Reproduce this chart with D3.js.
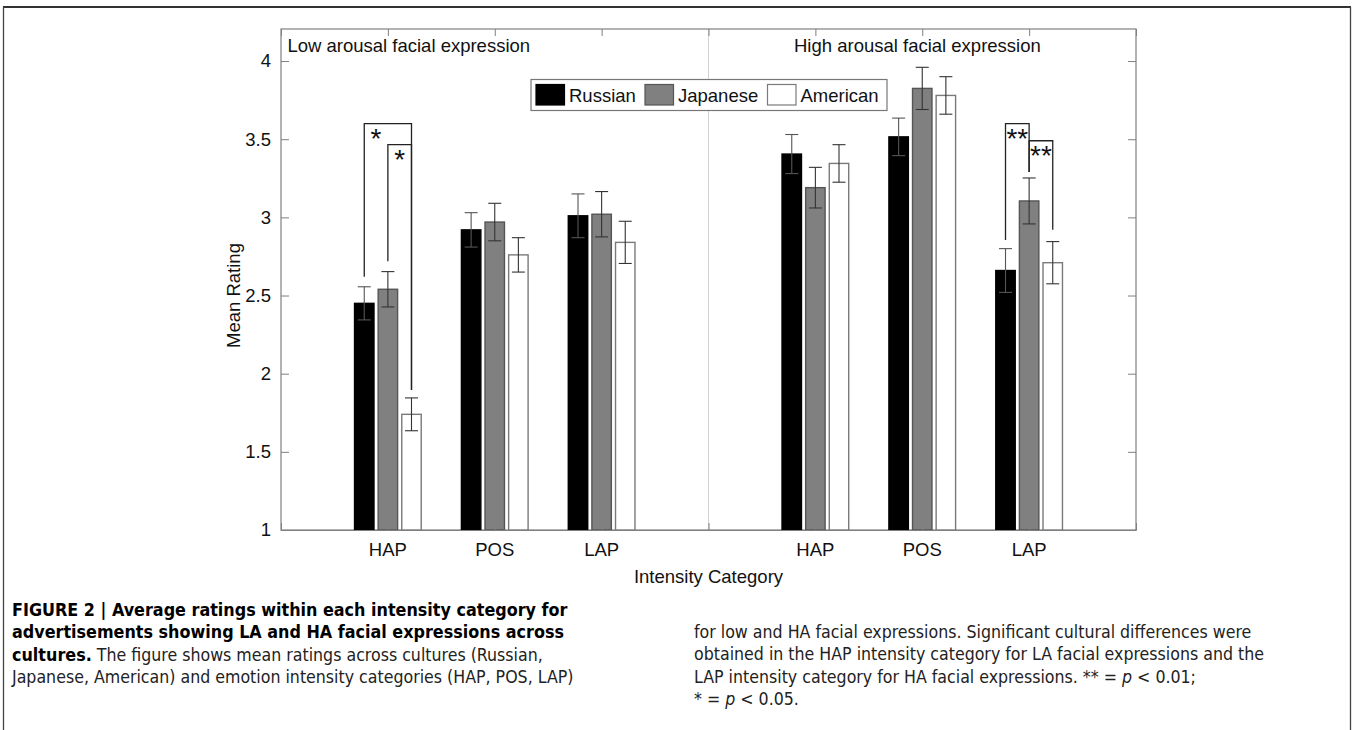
<!DOCTYPE html>
<html>
<head>
<meta charset="utf-8">
<script src="https://cdn.jsdelivr.net/npm/d3@7"></script>
<style>
  html, body { margin: 0; padding: 0; background: #fff; }
  svg { display: block; }
  .cap { font-family: "Liberation Sans Narrow", "DejaVu Sans Condensed", "Liberation Sans", sans-serif; font-size: 17.6px; fill: #222; }
  .cap .b { font-weight: bold; fill: #000; font-size: 17.8px; }
</style>
</head>
<body>
<svg id="chart" width="1354" height="730"></svg>
<script>
// ---------- data ----------
const panelTitles = ["Low arousal facial expression", "High arousal facial expression"];
const categories = ["HAP", "POS", "LAP"];
const seriesNames = ["Russian", "Japanese", "American"];
// values in order: LA HAP, LA POS, LA LAP, HA HAP, HA POS, HA LAP
const russianMeans  = [2.45, 2.92, 3.01, 3.405, 3.515, 2.66];
const japaneseMeans = [2.54, 2.97, 3.02, 3.19, 3.825, 3.105];
const americanMeans = [1.74, 2.76, 2.84, 3.345, 3.78, 2.71];
const russianErr  = [0.106, 0.11, 0.14, 0.125, 0.12, 0.14];
const japaneseErr = [0.113, 0.12, 0.145, 0.13, 0.135, 0.147];
const americanErr = [0.105, 0.11, 0.135, 0.12, 0.12, 0.135];
const yTicks = [1, 1.5, 2, 2.5, 3, 3.5, 4];
const yTickLabels = ["1", "1.5", "2", "2.5", "3", "3.5", "4"];
// significance brackets: group index (0..5), from/to series, top value, leg ends, label
const sigBrackets = [
  { group: 0, from: 0, to: 2, top: 3.60,  fromEnd: 2.62,  toEnd: 1.895, label: "*" },
  { group: 0, from: 1, to: 2, top: 3.465, fromEnd: 2.72,  toEnd: 1.895, label: "*" },
  { group: 5, from: 0, to: 1, top: 3.60,  fromEnd: 2.855, toEnd: 3.29,  label: "**" },
  { group: 5, from: 1, to: 2, top: 3.49,  fromEnd: 3.29,  toEnd: 2.92,  label: "**" }
];
const captionLeft = [
  [{ t: "FIGURE 2 | Average ratings within each intensity category for", b: true }],
  [{ t: "advertisements showing LA and HA facial expressions across", b: true }],
  [{ t: "cultures.", b: true }, { t: " The figure shows mean ratings across cultures (Russian," }],
  [{ t: "Japanese, American) and emotion intensity categories (HAP, POS, LAP)" }]
];
const captionRight = [
  [{ t: "for low and HA facial expressions. Significant cultural differences were" }],
  [{ t: "obtained in the HAP intensity category for LA facial expressions and the" }],
  [{ t: "LAP intensity category for HA facial expressions. ** = " }, { t: "p", i: true }, { t: " < 0.01;" }],
  [{ t: "* = " }, { t: "p", i: true }, { t: " < 0.05." }]
];

(function draw() {
const means = [russianMeans, japaneseMeans, americanMeans];
const errs = [russianErr, japaneseErr, americanErr];
const fills = ["#000000", "#808080", "#ffffff"];
const strokes = ["#000000", "#555555", "#7a7a7a"];

const svg = d3.select("#chart");
const W = 1354, H = 730;
const pL = 281, pR = 1136, pT = 29, pB = 530;

// slot position: panel p, category c -> 1 + 4p + c  (slot 4 is the divider)
const slotOf = g => 1 + Math.floor(g / 3) * 4 + (g % 3);
const x = d3.scaleLinear().domain([0, 8]).range([pL, pR]);
const y = d3.scaleLinear().domain([1, 4.205]).range([pB, pT]);
const barOffset = 0.221, barW = 0.182;

const font = "'Liberation Sans', Arial, sans-serif";

// outer frame
svg.append("line").attr("x1", 3).attr("x2", 1351).attr("y1", 7).attr("y2", 7)
  .attr("stroke", "#333").attr("stroke-width", 2);
svg.append("line").attr("x1", 3.5).attr("x2", 3.5).attr("y1", 7).attr("y2", H)
  .attr("stroke", "#444").attr("stroke-width", 1.3);
svg.append("line").attr("x1", 1350.5).attr("x2", 1350.5).attr("y1", 7).attr("y2", H)
  .attr("stroke", "#444").attr("stroke-width", 1.3);

// divider
svg.append("line").attr("x1", x(4)).attr("x2", x(4)).attr("y1", pT).attr("y2", pB)
  .attr("stroke", "#d0d0d0").attr("stroke-width", 1);

// axes box
const axisColor = "#808080";
svg.append("rect").attr("x", pL).attr("y", pT).attr("width", pR - pL).attr("height", pB - pT)
  .attr("fill", "none").attr("stroke", axisColor).attr("stroke-width", 1.2);

// y axis (left) with inward ticks
const yAxis = d3.axisLeft(y).tickValues(yTicks).tickFormat((d, i) => yTickLabels[i])
  .tickSizeInner(-8).tickSizeOuter(0).tickPadding(10);
const gy = svg.append("g").attr("transform", `translate(${pL},0)`).call(yAxis);
gy.select(".domain").remove();
gy.selectAll("line").attr("stroke", axisColor);
gy.selectAll("text").attr("font-family", font).attr("font-size", 18.5).attr("fill", "#111");

// y axis right ticks
const yAxisR = d3.axisRight(y).tickValues(yTicks).tickFormat("").tickSizeInner(-8).tickSizeOuter(0);
const gyr = svg.append("g").attr("transform", `translate(${pR},0)`).call(yAxisR);
gyr.select(".domain").remove();
gyr.selectAll("line").attr("stroke", axisColor);

// top ticks
const xTop = d3.axisTop(x).tickValues(d3.range(0, 9)).tickFormat("").tickSizeInner(-7).tickSizeOuter(0);
const gxt = svg.append("g").attr("transform", `translate(0,${pT})`).call(xTop);
gxt.select(".domain").remove();
gxt.selectAll("line").attr("stroke", axisColor);

// bars
const groups = d3.range(6);
groups.forEach(g => {
  seriesNames.forEach((s, si) => {
    const cx = slotOf(g) + (si - 1) * barOffset;
    svg.append("rect")
      .attr("x", x(cx - barW / 2)).attr("width", x(barW) - x(0))
      .attr("y", y(means[si][g])).attr("height", y(1) - y(means[si][g]))
      .attr("fill", fills[si]).attr("stroke", strokes[si]).attr("stroke-width", 1.4);
  });
});

// bottom ticks (inward) drawn after bars
const xBot = d3.axisBottom(x).tickValues(d3.range(0, 9)).tickFormat("").tickSizeInner(-7).tickSizeOuter(0);
const gxb = svg.append("g").attr("transform", `translate(0,${pB})`).call(xBot);
gxb.select(".domain").attr("stroke", axisColor).attr("stroke-width", 1.2);
gxb.selectAll("line").attr("stroke", axisColor);

// error bars
const capHalf = 6.5;
groups.forEach(g => {
  seriesNames.forEach((s, si) => {
    const cx = x(slotOf(g) + (si - 1) * barOffset);
    const m = means[si][g], e = errs[si][g];
    const col = si === 0 ? "#555" : "#333";
    const eg = svg.append("g").attr("stroke", col).attr("stroke-width", 1.1);
    eg.append("line").attr("x1", cx).attr("x2", cx).attr("y1", y(m - e)).attr("y2", y(m + e));
    eg.append("line").attr("x1", cx - capHalf).attr("x2", cx + capHalf).attr("y1", y(m + e)).attr("y2", y(m + e));
    eg.append("line").attr("x1", cx - capHalf).attr("x2", cx + capHalf).attr("y1", y(m - e)).attr("y2", y(m - e));
  });
});

// significance brackets
sigBrackets.forEach(b => {
  const x1 = x(slotOf(b.group) + (b.from - 1) * barOffset);
  const x2 = x(slotOf(b.group) + (b.to - 1) * barOffset);
  svg.append("path")
    .attr("d", `M${x1},${y(b.fromEnd)}V${y(b.top)}H${x2}V${y(b.toEnd)}`)
    .attr("fill", "none").attr("stroke", "#222").attr("stroke-width", 1.3);
  const lx = x(slotOf(b.group) + (b.from - 0.5) * barOffset);
  svg.append("text").attr("x", lx).attr("y", y(b.top) + 24)
    .attr("text-anchor", "middle").attr("font-family", font).attr("font-size", 28)
    .attr("fill", "#111").text(b.label);
});

// x category labels
groups.forEach(g => {
  svg.append("text").attr("x", x(slotOf(g))).attr("y", 556)
    .attr("text-anchor", "middle").attr("font-family", font).attr("font-size", 18.5)
    .attr("fill", "#111").text(categories[g % 3]);
});

// panel titles
svg.append("text").attr("x", x(0.06)).attr("y", 52).attr("font-family", font).attr("font-size", 18.5)
  .attr("fill", "#111").text(panelTitles[0]);
svg.append("text").attr("x", x(4.8)).attr("y", 52).attr("font-family", font).attr("font-size", 18.5)
  .attr("fill", "#111").text(panelTitles[1]);

// axis titles
svg.append("text").attr("x", x(4)).attr("y", 583).attr("text-anchor", "middle")
  .attr("font-family", font).attr("font-size", 18.5).attr("fill", "#111").text("Intensity Category");
svg.append("text").attr("transform", `translate(240,${y(2.5)}) rotate(-90)`).attr("text-anchor", "middle")
  .attr("font-family", font).attr("font-size", 18.5).attr("fill", "#111").text("Mean Rating");

// legend
const lg = svg.append("g");
lg.append("rect").attr("x", 531).attr("y", 79.5).attr("width", 356).attr("height", 31)
  .attr("fill", "#fff").attr("stroke", "#777").attr("stroke-width", 1.2);
const legX = [536, 645, 767.5];
seriesNames.forEach((s, si) => {
  lg.append("rect").attr("x", legX[si]).attr("y", 84.5).attr("width", 28.5).attr("height", 20.5)
    .attr("fill", fills[si]).attr("stroke", strokes[si]).attr("stroke-width", 1.2);
  lg.append("text").attr("x", legX[si] + 33).attr("y", 101.5).attr("font-family", font)
    .attr("font-size", 18.5).attr("fill", "#111").text(s);
});

// caption
function writeLines(lines, x0, y0) {
  lines.forEach((parts, li) => {
    const t = svg.append("text").attr("class", "cap").attr("x", x0).attr("y", y0 + li * 22.3);
    parts.forEach(p => {
      const ts = t.append("tspan").text(p.t);
      if (p.b) ts.attr("class", "b");
      if (p.i) ts.attr("font-style", "italic");
    });
  });
}
writeLines(captionLeft, 12, 616);
writeLines(captionRight, 694, 638);
})();
</script>
</body>
</html>
